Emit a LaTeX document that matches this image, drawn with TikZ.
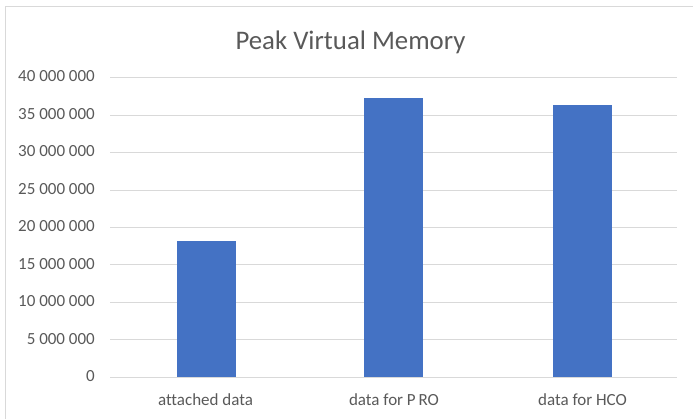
\documentclass[tikz,border=0pt]{standalone}
\usepackage{fontspec}
\setmainfont{Carlito}[Ligatures={NoCommon}]
\definecolor{barblue}{HTML}{4472C4}
\definecolor{gridgray}{HTML}{D9D9D9}
\definecolor{textgray}{HTML}{595959}
\definecolor{framegray}{HTML}{D9D9D9}
\begin{document}
\begin{tikzpicture}[x=1pt,y=-1pt,
  gridline/.style={draw=gridgray,line width=1pt},
  bar/.style={fill=barblue,draw=none,inner sep=0pt,minimum width=59pt,anchor=south},
  ylab/.style={text=textgray,font=\fontsize{17}{17}\selectfont,anchor=base east,inner sep=0pt},
  xlab/.style={text=textgray,font=\fontsize{17}{17}\selectfont,anchor=base,inner sep=0pt},
  titlestyle/.style={text=textgray,font=\fontsize{26.8}{27}\selectfont,anchor=base,inner sep=0pt}]
\useasboundingbox (0,0) rectangle (693,419);
\begin{scope}
\clip (0,0) rectangle (693,419);
\draw[framegray,line width=1pt] (5.5,6.5) rectangle (720,440);
\end{scope}
\node[titlestyle] (title) at (350.5,50) {Peak Virtual Memory};
% gridlines and y labels
\foreach \v/\lab in {0/0,1/5 000 000,2/10 000 000,3/15 000 000,4/20 000 000,5/25 000 000,6/30 000 000,7/35 000 000,8/40 000 000}{
  \coordinate (gl\v) at (110,{377.3-37.45*\v});
  \coordinate (gr\v) at (677,{377.3-37.45*\v});
  \draw[gridline] (gl\v) -- (gr\v);
  \node[ylab] (y\v) at (95,{377.3-37.45*\v+4.2}) {\lab};
}
% bars
\node[bar,minimum height=135.6pt] (b1) at (206.2,377.3) {};
\node[bar,minimum height=279pt] (b2) at (393.5,377.3) {};
\node[bar,minimum height=272pt] (b3) at (582.2,377.3) {};
% category labels
\node[xlab] (c1) at (205.5,405) {attached data};
\node[xlab] (c2) at (394,405) {data for P\kern-1pt\ RO};
\node[xlab] (c3) at (582.5,405) {data for HCO};
\end{tikzpicture}
\end{document}
